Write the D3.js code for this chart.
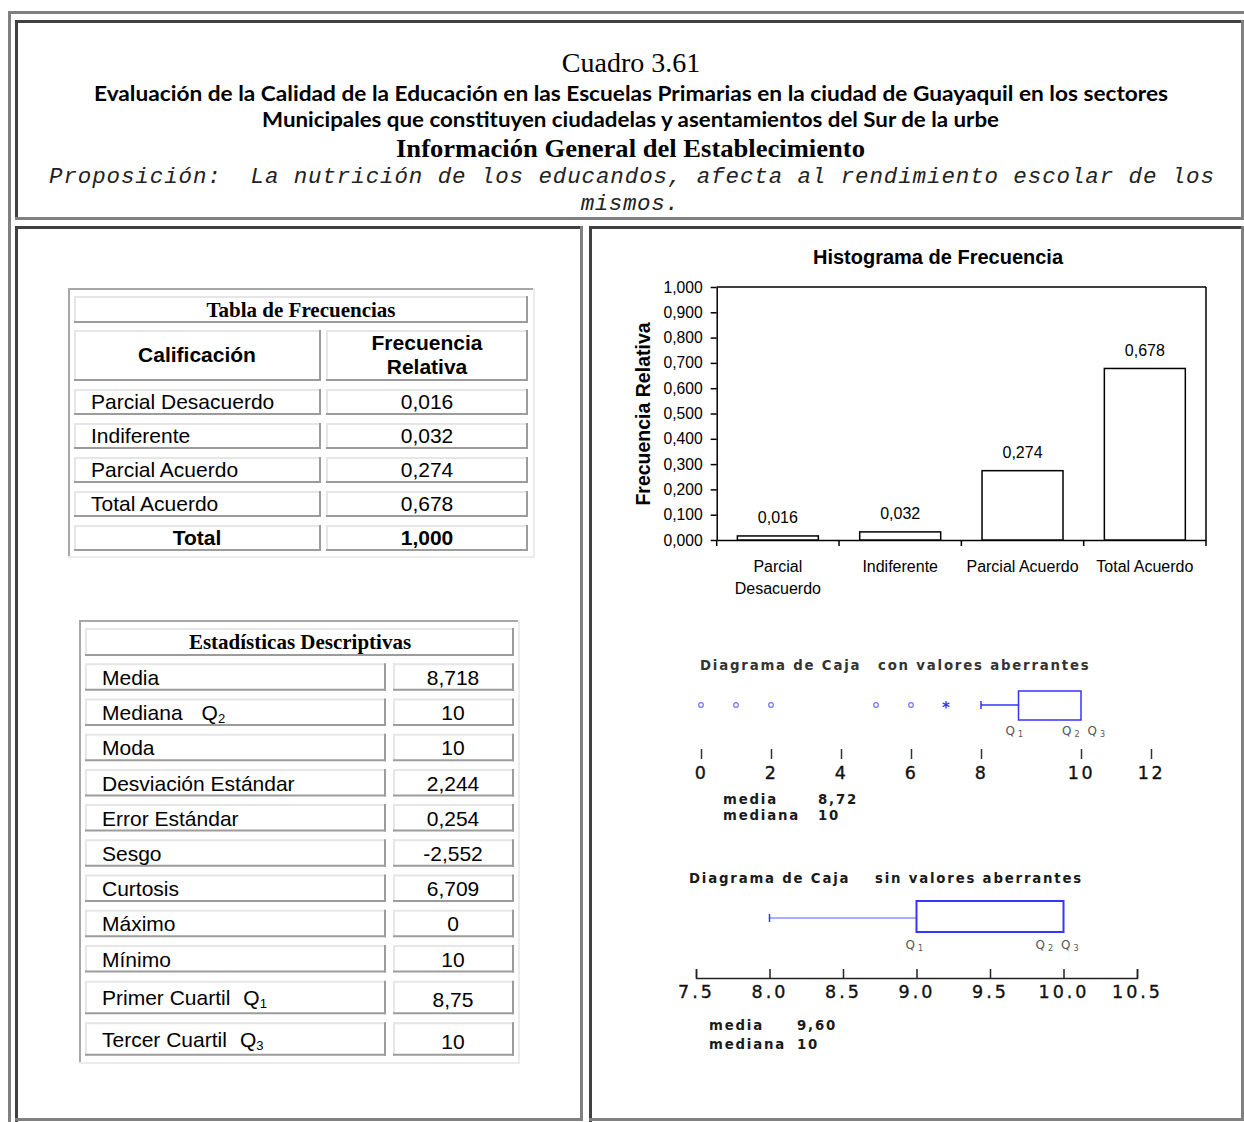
<!DOCTYPE html>
<html><head><meta charset="utf-8">
<script src="https://cdn.jsdelivr.net/npm/d3@7"></script>
<style>body{margin:0;background:#fff}svg{display:block}</style>
</head><body>
<svg id="c" width="1244" height="1122"></svg>
<script>
// ---------------- DATA ----------------
const categories = ["Parcial Desacuerdo", "Indiferente", "Parcial Acuerdo", "Total Acuerdo"];
const categoryLines = [["Parcial", "Desacuerdo"], ["Indiferente"], ["Parcial Acuerdo"], ["Total Acuerdo"]];
const freqValues = [0.016, 0.032, 0.274, 0.678];
const freqTotal = 1.000;
const yTickValues = [0, 0.1, 0.2, 0.3, 0.4, 0.5, 0.6, 0.7, 0.8, 0.9, 1.0];

const statNames = ["Media", "Mediana", "Moda", "Desviación Estándar", "Error Estándar", "Sesgo", "Curtosis", "Máximo", "Mínimo", "Primer Cuartil", "Tercer Cuartil"];
const statSubs = [null, "2", null, null, null, null, null, null, null, "1", "3"];
const statValues = ["8,718", "10", "10", "2,244", "0,254", "-2,552", "6,709", "0", "10", "8,75", "10"];

const box1Ticks = [0, 2, 4, 6, 8, 10, 12];
const box1Outliers = [0, 1, 2, 5, 6];
const box1Extremes = [7];
const box1Whisker = 8, box1Q1 = 8.75, box1Q3 = 10;
const box1Media = "8,72", box1Mediana = "10";

const box2Ticks = [7.5, 8.0, 8.5, 9.0, 9.5, 10.0, 10.5];
const box2Whisker = 8, box2Q1 = 9, box2Q3 = 10;
const box2Media = "9,60", box2Mediana = "10";

// ---------------- HELPERS ----------------
const svg = d3.select("#c");
svg.append("rect").attr("width", 1244).attr("height", 1122).attr("fill", "#fff");
const commaFmt = d => d3.format(".3f")(d).replace(".", ",");

const frame = svg.append("g");
function fr(x, y, w, h, c) { frame.append("rect").attr("x", x).attr("y", y).attr("width", w).attr("height", h).attr("fill", c); }
const G = "#808080", D = "#404040";
// outer table
fr(8, 11, 1236, 3, G); fr(8, 11, 3, 1111, G);
// top cell
fr(15, 20, 1229, 3, D); fr(15, 20, 3, 200, D); fr(15, 217, 1229, 3, G); fr(1241, 20, 3, 200, G);
// bottom-left cell
fr(15, 226, 568, 3, D); fr(15, 226, 3, 896, D); fr(580, 226, 3, 895, G); fr(15, 1118, 568, 3, G);
// bottom-right cell
fr(589, 226, 655, 3, D); fr(589, 226, 3, 896, D); fr(1241, 226, 3, 895, G); fr(589, 1118, 655, 3, G);

// ---------------- HEADER TEXT ----------------
const head = svg.append("g").attr("fill", "#000");
head.append("text").attr("x", 631).attr("y", 72).attr("text-anchor", "middle")
  .attr("font-family", "Liberation Serif, serif").attr("font-size", 28).text("Cuadro 3.61");
head.append("text").attr("x", 631).attr("y", 101).attr("text-anchor", "middle")
  .attr("font-family", "Lato, Noto Sans, sans-serif").attr("font-weight", 700).attr("font-size", 21)
  .attr("textLength", 1074).attr("lengthAdjust", "spacingAndGlyphs")
  .text("Evaluación de la Calidad de la Educación en las Escuelas Primarias en la ciudad de Guayaquil en los sectores");
head.append("text").attr("x", 630.5).attr("y", 127).attr("text-anchor", "middle")
  .attr("font-family", "Lato, Noto Sans, sans-serif").attr("font-weight", 700).attr("font-size", 21)
  .attr("textLength", 737).attr("lengthAdjust", "spacingAndGlyphs")
  .text("Municipales que constituyen ciudadelas y asentamientos del Sur de la urbe");
head.append("text").attr("x", 630.5).attr("y", 157).attr("text-anchor", "middle")
  .attr("font-family", "Liberation Serif, serif").attr("font-weight", 700).attr("font-size", 25)
  .attr("textLength", 469).attr("lengthAdjust", "spacingAndGlyphs")
  .text("Información General del Establecimiento");
head.append("text").attr("x", 49).attr("y", 183).style("white-space", "pre")
  .attr("font-family", "Liberation Mono, monospace").attr("font-style", "italic").attr("font-size", 22.5)
  .attr("fill", "#222").attr("textLength", 1165).attr("lengthAdjust", "spacing")
  .text("Proposición:  La nutrición de los educandos, afecta al rendimiento escolar de los");
head.append("text").attr("x", 630).attr("y", 210).attr("text-anchor", "middle")
  .attr("font-family", "Liberation Mono, monospace").attr("font-style", "italic").attr("font-size", 22.5)
  .attr("fill", "#222").attr("letter-spacing", 0.6).text("mismos.");

// ---------------- TABLES ----------------
const tbl = svg.append("g");
function outerBox(x0, y0, x1, y1) {
  tbl.append("line").attr("x1", x0).attr("y1", y0 + 1).attr("x2", x1).attr("y2", y0 + 1).attr("stroke", "#a8a8a8").attr("stroke-width", 2);
  tbl.append("line").attr("x1", x0 + 1).attr("y1", y0).attr("x2", x0 + 1).attr("y2", y1).attr("stroke", "#a8a8a8").attr("stroke-width", 2);
  tbl.append("line").attr("x1", x0).attr("y1", y1 - 1).attr("x2", x1).attr("y2", y1 - 1).attr("stroke", "#ebebeb").attr("stroke-width", 2);
  tbl.append("line").attr("x1", x1 - 1).attr("y1", y0).attr("x2", x1 - 1).attr("y2", y1).attr("stroke", "#ebebeb").attr("stroke-width", 2);
}
function cell(x0, y0, x1, y1) {
  tbl.append("line").attr("x1", x0).attr("y1", y0 + 1).attr("x2", x1).attr("y2", y0 + 1).attr("stroke", "#e6e6e6").attr("stroke-width", 2);
  tbl.append("line").attr("x1", x0 + 1).attr("y1", y0).attr("x2", x0 + 1).attr("y2", y1).attr("stroke", "#e6e6e6").attr("stroke-width", 2);
  tbl.append("line").attr("x1", x0).attr("y1", y1 - 1).attr("x2", x1).attr("y2", y1 - 1).attr("stroke", "#9c9c9c").attr("stroke-width", 2);
  tbl.append("line").attr("x1", x1 - 1).attr("y1", y0).attr("x2", x1 - 1).attr("y2", y1).attr("stroke", "#9c9c9c").attr("stroke-width", 2);
}
function txt(x, y, s, opts = {}) {
  return tbl.append("text").attr("x", x).attr("y", y)
    .attr("text-anchor", opts.anchor || "start")
    .attr("font-family", opts.serif ? "Liberation Serif, serif" : "Liberation Sans, Arial, sans-serif")
    .attr("font-weight", opts.bold ? 700 : 400)
    .attr("font-size", opts.size || 21).attr("fill", "#000").text(s);
}

// Table 1
outerBox(68, 288, 535, 558);
cell(74, 296, 528, 323);
txt(301, 317, "Tabla de Frecuencias", { serif: true, bold: true, anchor: "middle" });
cell(74, 330, 321, 381); cell(326, 330, 528, 381);
txt(197, 362, "Calificación", { bold: true, anchor: "middle" });
txt(427, 350, "Frecuencia", { bold: true, anchor: "middle" });
txt(427, 374, "Relativa", { bold: true, anchor: "middle" });
const rows1 = categories.map((c, i) => ({ name: c, value: commaFmt(freqValues[i]), bold: false }))
  .concat([{ name: "Total", value: commaFmt(freqTotal), bold: true }]);
rows1.forEach((r, i) => {
  const top = 389 + i * 34;
  cell(74, top, 321, top + 26); cell(326, top, 528, top + 26);
  if (r.bold) txt(197, top + 20, r.name, { bold: true, anchor: "middle" });
  else txt(91, top + 20, r.name);
  txt(427, top + 20, r.value, { bold: r.bold, anchor: "middle" });
});

// Table 2
outerBox(79, 620, 520, 1064);
cell(85, 628, 514, 656);
txt(300, 649, "Estadísticas Descriptivas", { serif: true, bold: true, anchor: "middle" });
statNames.forEach((n, i) => {
  const tall = i >= 9;
  const top = tall ? 980.7 + (i - 9) * 41.6 : 663.3 + i * 35.2;
  const h = tall ? 33.5 : 27.5;
  cell(85, top, 386, top + h); cell(393, top, 514, top + h);
  const base = tall ? top + 24.5 : top + 21.7;
  const t = txt(102, base, n);
  if (statSubs[i]) {
    t.append("tspan").attr("dx", i === 1 ? 19 : 13).text("Q");
    t.append("tspan").attr("font-size", 13).attr("dy", 3).text(statSubs[i]);
  }
  txt(453, tall ? base + 2 : base, statValues[i], { anchor: "middle" });
});

// ---------------- HISTOGRAM ----------------
const hist = svg.append("g").attr("font-family", "Liberation Sans, Arial, sans-serif");
const x = d3.scaleBand().domain(categories).range([716.7, 1206]).paddingInner(0.338).paddingOuter(0.169);
const y = d3.scaleLinear().domain([0, 1]).range([540, 287]);

hist.append("text").attr("x", 938).attr("y", 264).attr("text-anchor", "middle")
  .attr("font-weight", 700).attr("font-size", 20).text("Histograma de Frecuencia");
hist.append("text").attr("transform", "translate(650,414) rotate(-90)").attr("text-anchor", "middle")
  .attr("font-weight", 700).attr("font-size", 19.5).text("Frecuencia Relativa");

const yAxis = hist.append("g").attr("transform", "translate(716.7,0)")
  .call(d3.axisLeft(y).tickValues(yTickValues).tickSize(6).tickSizeOuter(0).tickPadding(8).tickFormat(commaFmt));
yAxis.selectAll("text").attr("font-size", 15.7).attr("font-family", "Liberation Sans, Arial, sans-serif").attr("fill", "#000");
yAxis.selectAll("line,path").attr("stroke", "#000").attr("stroke-width", 1.5);

const xAxis = hist.append("g").attr("transform", "translate(0,540)")
  .call(d3.axisBottom(x).tickSize(0).tickSizeOuter(0).tickFormat(""));
xAxis.selectAll("path").attr("stroke", "#000").attr("stroke-width", 1.5);
const bounds = d3.range(categories.length + 1).map(i => x.range()[0] + i * x.step());
hist.selectAll(".xb").data(bounds).join("line")
  .attr("x1", d => d).attr("x2", d => d).attr("y1", 540).attr("y2", 546)
  .attr("stroke", "#000").attr("stroke-width", 1.5);
// frame top and right
hist.append("line").attr("x1", x.range()[0]).attr("x2", x.range()[1]).attr("y1", y(1)).attr("y2", y(1)).attr("stroke", "#000").attr("stroke-width", 1.5);
hist.append("line").attr("x1", x.range()[1]).attr("x2", x.range()[1]).attr("y1", y(1)).attr("y2", y(0)).attr("stroke", "#000").attr("stroke-width", 1.5);

hist.selectAll(".bar").data(freqValues).join("rect")
  .attr("x", (d, i) => x(categories[i])).attr("width", x.bandwidth())
  .attr("y", d => y(d)).attr("height", d => y(0) - y(d))
  .attr("fill", "#fff").attr("stroke", "#000").attr("stroke-width", 1.5);
hist.selectAll(".vl").data(freqValues).join("text")
  .attr("x", (d, i) => x(categories[i]) + x.bandwidth() / 2).attr("y", d => y(d) - 12.5)
  .attr("text-anchor", "middle").attr("font-size", 16).text(commaFmt);
categoryLines.forEach((lines, i) => {
  lines.forEach((l, j) => {
    hist.append("text").attr("x", x(categories[i]) + x.bandwidth() / 2).attr("y", 572 + j * 21.5)
      .attr("text-anchor", "middle").attr("font-size", 16).text(l);
  });
});

// ---------------- BOX PLOTS ----------------
const bp = svg.append("g").attr("font-family", "DejaVu Sans, Verdana, sans-serif");
const BLUE = "#3535ff";
function bpText(xp, yp, s, opts = {}) {
  return bp.append("text").attr("x", xp).attr("y", yp).attr("font-size", opts.size || 13.3)
    .attr("font-weight", opts.bold === false ? 400 : 700).attr("letter-spacing", opts.ls == null ? 1.8 : opts.ls)
    .attr("fill", opts.fill || "#1a1a1a").attr("text-anchor", opts.anchor || "start").text(s);
}
function qLabel(xp, yp, subs) {
  const t = bp.append("text").attr("x", xp).attr("y", yp).attr("font-size", 12).attr("fill", "#555");
  subs.forEach((s, k) => {
    t.append("tspan").attr("dx", k ? 8 : 0).attr("dy", k ? -2 : 0).text("Q");
    t.append("tspan").attr("font-size", 8).attr("dx", 3).attr("dy", 2).text(s);
  });
}

// Box 1 (non-uniform axis as in the original figure)
const b1 = d3.scaleLinear().domain([0, 8, 10, 12]).range([701, 981, 1081, 1151]);
bpText(700, 670, "Diagrama de Caja", { fill: "#333" });
bpText(878, 670, "con valores aberrantes", { fill: "#333" });
const b1y = 705;
bp.selectAll(".o1").data(box1Outliers).join("circle")
  .attr("cx", d => b1(d)).attr("cy", b1y).attr("r", 2.3)
  .attr("fill", "none").attr("stroke", "#7373ff").attr("stroke-width", 1.2);
bp.selectAll(".e1").data(box1Extremes).join("text")
  .attr("x", d => b1(d)).attr("y", b1y + 8).attr("text-anchor", "middle")
  .attr("font-size", 15).attr("font-weight", 700).attr("fill", BLUE).text("*");
bp.append("line").attr("x1", b1(box1Whisker)).attr("x2", b1(box1Q1)).attr("y1", b1y).attr("y2", b1y).attr("stroke", BLUE).attr("stroke-width", 1.5);
bp.append("line").attr("x1", b1(box1Whisker)).attr("x2", b1(box1Whisker)).attr("y1", b1y - 4).attr("y2", b1y + 4).attr("stroke", BLUE).attr("stroke-width", 1.5);
bp.append("rect").attr("x", b1(box1Q1)).attr("width", b1(box1Q3) - b1(box1Q1)).attr("y", 691).attr("height", 29)
  .attr("fill", "none").attr("stroke", BLUE).attr("stroke-width", 1.5);
qLabel(b1(box1Q1) - 13, 735, ["1"]);
qLabel(b1(box1Q3) - 19, 735, ["2", "3"]);
const ax1 = bp.append("g").attr("transform", "translate(0,749)")
  .call(d3.axisBottom(b1).tickValues(box1Ticks).tickSize(10).tickPadding(8).tickFormat(d3.format("d")));
ax1.select(".domain").remove();
ax1.selectAll("line").attr("stroke", "#333").attr("stroke-width", 1.5);
ax1.selectAll("text").attr("font-size", 17.5).attr("font-family", "DejaVu Sans, Verdana, sans-serif")
  .attr("letter-spacing", 2.5).attr("fill", "#111").attr("stroke", "#111").attr("stroke-width", 0.35);
bpText(723, 804, "media"); bpText(818, 804, box1Media);
bpText(723, 820, "mediana"); bpText(818, 820, box1Mediana);

// Box 2
const b2 = d3.scaleLinear().domain([7.5, 10.5]).range([696, 1137]);
bpText(689, 883, "Diagrama de Caja");
bpText(875, 883, "sin valores aberrantes");
const b2y = 918;
bp.append("line").attr("x1", b2(box2Whisker)).attr("x2", b2(box2Q1)).attr("y1", b2y).attr("y2", b2y).attr("stroke", "#a9adff").attr("stroke-width", 2);
bp.append("line").attr("x1", b2(box2Whisker)).attr("x2", b2(box2Whisker)).attr("y1", b2y - 4).attr("y2", b2y + 4).attr("stroke", BLUE).attr("stroke-width", 1.5);
bp.append("rect").attr("x", b2(box2Q1)).attr("width", b2(box2Q3) - b2(box2Q1)).attr("y", 901).attr("height", 31)
  .attr("fill", "none").attr("stroke", BLUE).attr("stroke-width", 2);
qLabel(b2(box2Q1) - 11, 949, ["1"]);
qLabel(b2(box2Q3) - 28, 949, ["2", "3"]);
const ax2 = bp.append("g").attr("transform", "translate(0,978)")
  .call(d3.axisBottom(b2).tickValues(box2Ticks).tickSize(-9).tickSizeOuter(-9).tickPadding(8).tickFormat(d3.format(".1f")));
ax2.selectAll("line,path").attr("stroke", "#222").attr("stroke-width", 1.5);
ax2.selectAll("text").attr("font-size", 17.5).attr("font-family", "DejaVu Sans, Verdana, sans-serif")
  .attr("letter-spacing", 3).attr("fill", "#111").attr("stroke", "#111").attr("stroke-width", 0.35);
bpText(709, 1030, "media"); bpText(797, 1030, box2Media);
bpText(709, 1049, "mediana"); bpText(797, 1049, box2Mediana);
</script>
</body></html>
